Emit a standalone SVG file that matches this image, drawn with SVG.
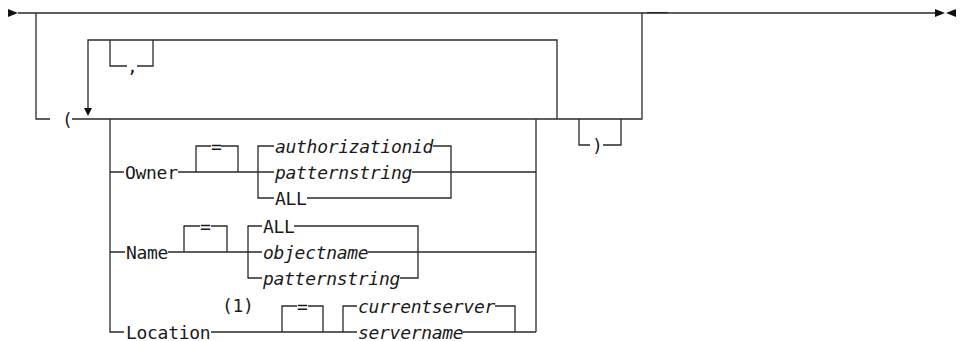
<svg xmlns="http://www.w3.org/2000/svg" width="964" height="341" viewBox="0 0 964 341">
<style>
.c{fill:none;stroke:#2a2a2a;stroke-width:1.3}
.t{font-family:"DejaVu Sans Mono","Liberation Mono",monospace;font-size:18px;letter-spacing:-0.3px;fill:#1a1a1a}
.i{font-style:italic}
.a{fill:#111}
</style>
<rect width="964" height="341" fill="#fff"/>
<g id="connectors">
<path class="c" d="M18,13 H935"/>
<path class="c" d="M647,12.6 H668" stroke-width="1.5"/>
<path class="c" d="M36,13 V119 H50"/>
<path class="c" d="M72,119 H642 V13"/>
<path class="c" d="M557,119 V40 H88 V108"/>
<path class="c" d="M110,40 V66 H127 M137,66 H153 V40"/>
<path class="c" d="M579,119 V145 H590 M603,145 H621 V119"/>
<path class="c" d="M110,119 V332 H124"/>
<path class="c" d="M536,119 V332"/>
<path class="c" d="M110,172 H124 M178,172 H274 M412,172 H536"/>
<path class="c" d="M196,172 V146 H211 M221,146 H238 V172"/>
<path class="c" d="M274,146 H258 V198 H274 M433,146 H451 V198 H307"/>
<path class="c" d="M110,252 H125 M168,252 H262 M368,252 H536"/>
<path class="c" d="M184,252 V226 H200 M211,226 H227 V252"/>
<path class="c" d="M262,226 H248 V278 H262 M294,226 H418 V278 H400"/>
<path class="c" d="M211,332 H357 M463,332 H536"/>
<path class="c" d="M282,332 V306 H297 M308,306 H323 V332"/>
<path class="c" d="M357,306 H343 V332 M495,306 H515 V332"/>
<polygon class="a" points="8,9 18,13 8,17"/>
<polygon class="a" points="935,9 945,13 935,17"/>
<polygon class="a" points="956,9 946,13 956,17"/>
<polygon class="a" points="84,108 92,108 88,116"/>
</g>
<g id="open-paren"><text class="t" x="62" y="125.5">(</text></g>
<g id="comma"><text class="t" x="127" y="72.5">,</text></g>
<g id="close-paren"><text class="t" x="592" y="151.5">)</text></g>
<g id="owner"><text class="t" x="125" y="178.5">Owner</text></g>
<g id="owner-eq"><text class="t" x="211" y="152.5">=</text></g>
<g id="owner-authorizationid"><text class="t i" x="275" y="152.5">authorizationid</text></g>
<g id="owner-patternstring"><text class="t i" x="275" y="178.5">patternstring</text></g>
<g id="owner-all"><text class="t" x="275" y="204.5">ALL</text></g>
<g id="name"><text class="t" x="126" y="258.5">Name</text></g>
<g id="name-eq"><text class="t" x="200" y="232.5">=</text></g>
<g id="name-all"><text class="t" x="263" y="232.5">ALL</text></g>
<g id="name-objectname"><text class="t i" x="263" y="258.5">objectname</text></g>
<g id="name-patternstring"><text class="t i" x="263" y="284.5">patternstring</text></g>
<g id="location"><text class="t" x="126" y="338.5">Location</text></g>
<g id="note-1"><text class="t" x="222" y="312">(1)</text></g>
<g id="location-eq"><text class="t" x="297" y="312.5">=</text></g>
<g id="location-currentserver"><text class="t i" x="358" y="312.5">currentserver</text></g>
<g id="location-servername"><text class="t i" x="358" y="338.5">servername</text></g>
</svg>
